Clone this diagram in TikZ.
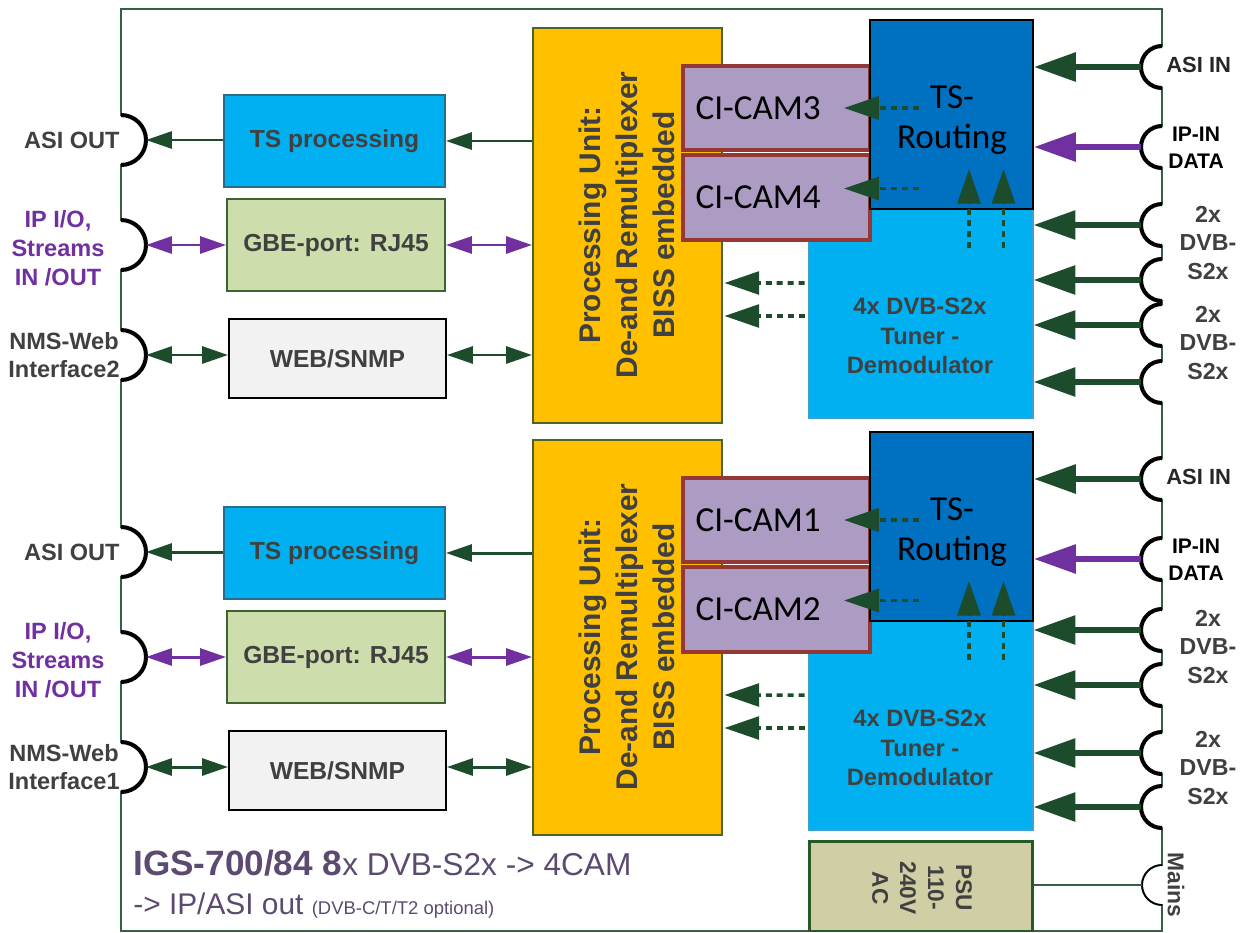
\documentclass[tikz,border=0pt]{standalone}
\usepackage{fontspec}
\setmainfont{Liberation Sans}
\newfontfamily\calfont{Carlito}
\usetikzlibrary{arrows.meta,calc}

\definecolor{arrowgreen}{RGB}{28,76,44}
\definecolor{framegreen}{RGB}{55,95,65}
\definecolor{ipurple}{RGB}{112,48,160}
\definecolor{cyanbox}{RGB}{0,176,240}
\definecolor{routeblue}{RGB}{0,112,192}
\definecolor{puyellow}{RGB}{255,192,0}
\definecolor{puborder}{RGB}{79,98,40}
\definecolor{gbegreen}{RGB}{205,221,172}
\definecolor{gbeborder}{RGB}{60,100,50}
\definecolor{webgray}{RGB}{242,242,242}
\definecolor{camviolet}{RGB}{172,156,196}
\definecolor{cambrown}{RGB}{149,55,53}
\definecolor{psukhaki}{RGB}{208,206,164}
\definecolor{psuborder}{RGB}{40,90,40}
\definecolor{tsborder}{RGB}{40,110,140}
\definecolor{tunerborder}{RGB}{60,160,210}
\definecolor{textgray}{RGB}{64,64,64}
\definecolor{titlepurple}{RGB}{92,74,112}

\tikzset{
  casing/.style={draw=framegreen, line width=1.1pt},
  box/.style={draw, inner sep=0pt, line width=1.1pt, font=\fontsize{14}{17}\selectfont\bfseries, text=textgray},
  cam/.style={draw=cambrown, fill=camviolet, line width=2.3pt, minimum width=3.74cm, minimum height=1.7cm, text width=3.24cm, inner xsep=0.25cm, inner ysep=0pt, align=left, font=\calfont\fontsize{20}{24}\selectfont},
  port/.style={draw=black, line width=2.3pt},
  lbl/.style={inner sep=0pt, align=center, font=\fontsize{13.4}{16.4}\selectfont\bfseries, text=textgray},
  link/.style={draw=arrowgreen, line width=1.7pt, >={Triangle[length=14.7pt,width=9.6pt]}},
  feed/.style={draw=arrowgreen, line width=3.4pt, >={Triangle[length=23.8pt,width=15.9pt]}, ->},
  dfeed/.style={draw=arrowgreen, line width=2pt, dash pattern=on 3.4pt off 2.8pt, >={Triangle[length=19.8pt,width=13pt]}, ->}
}

\begin{document}
\begin{tikzpicture}[x=0.02cm, y=-0.02cm]
    \useasboundingbox (0,0) rectangle (1244,933);

    % Housing with the port openings
    \draw[casing] (121,931) \foreach \y in {767,657,552,355,245,140}{ -- (121,\y+25) arc[start angle=-90, end angle=90, radius=0.5cm] }
        -- (121,9) -- (1162,9)
        \foreach \y in {67,147,225,280,325,382,479,559,630,685,753,807}{ -- (1162,\y-21) arc[start angle=90, end angle=270, radius=0.42cm] }
        -- (1162,865) arc[start angle=90, end angle=270, radius=0.4cm] -- (1162,931) -- cycle;

    % Two identical receiver halves
    \foreach \h/\off/\camA/\camB/\nms/\da/\db/\dc/\dd/\la/\lb in
        {U/0/CI-CAM3/CI-CAM4/Interface2/225/280/325/382/243/343,
         L/412/CI-CAM1/CI-CAM2/Interface1/218/273/341/395/235/356}{
    \begin{scope}[yshift={-0.02cm*\off}]
        % Processing unit
        \node[box, fill=puyellow, draw=puborder, minimum width=3.78cm, minimum height=7.9cm] (pu\h) at (627.5,225.5) {};
        \node[rotate=90, align=center, font=\fontsize{17}{21}\selectfont\bfseries, text=textgray] (putxt\h) at (627,225) {Processing Unit:\\De-and Remultiplexer\\BISS embedded};

        % Output blocks
        \node[box, fill=cyanbox, draw=tsborder, minimum width=4.42cm, minimum height=1.84cm] (tsp\h) at (334.5,141) {TS processing};
        \node[box, fill=gbegreen, draw=gbeborder, minimum width=4.36cm, minimum height=1.84cm] (gbe\h) at (336,245) {GBE-port: RJ45};
        \node[box, fill=webgray, draw=black, minimum width=4.34cm, minimum height=1.58cm] (web\h) at (337.5,358.5) {WEB/SNMP};

        % Tuner, CAM slots, routing
        \node[box, fill=cyanbox, draw=tunerborder, line width=0.6pt, minimum width=4.5cm, minimum height=4.18cm] (tun\h) at (920.5,313.5) {};
        \node[align=center, font=\fontsize{13.5}{16.7}\selectfont\bfseries, text=textgray] (tuntxt\h) at (920,336) {4x DVB-S2x\\Tuner -\\Demodulator};
        \node[cam, minimum height=1.68cm] (camA\h) at (776.5,108) {\camA};
        \node[cam] (camB\h) at (776.5,197.5) {\camB};
        \node[box, fill=routeblue, draw=black, minimum width=3.26cm, minimum height=3.78cm] (tsr\h) at (951.5,114.5) {};
        \node[align=center, font=\calfont\fontsize{20}{22.7}\selectfont, text=black] (tsrtxt\h) at (952,120) {TS-\\Routing};

        % Ports
        \foreach \y in {140,245,355} \draw[port] (121,\y+25) arc[start angle=-90, end angle=90, radius=0.5cm];
        \foreach \y in {67,147,\da,\db,\dc,\dd} \draw[port] (1162,\y-21) arc[start angle=90, end angle=270, radius=0.42cm];
        \coordinate (asiout\h) at (146,140);
        \coordinate (ipio\h) at (146,245);
        \coordinate (nms\h) at (146,355);
        \coordinate (asiin\h) at (1141,67);
        \coordinate (ipin\h) at (1141,147);
        \coordinate (dvbA\h) at (1141,\da);
        \coordinate (dvbB\h) at (1141,\db);
        \coordinate (dvbC\h) at (1141,\dc);
        \coordinate (dvbD\h) at (1141,\dd);

        % Port labels
        \node[lbl, anchor=east] (asioutlbl\h) at (120,140) {ASI OUT};
        \node[lbl, text=ipurple] (ipiolbl\h) at (58,248) {IP I/O,\\Streams\\IN /OUT};
        \node[lbl] (nmslbl\h) at (64,355) {NMS-Web\\\nms};
        \node[lbl, anchor=west, font=\fontsize{12.5}{15}\selectfont\bfseries, text=black!85] (asiinlbl\h) at (1166,65) {ASI IN};
        \node[lbl, font=\fontsize{12}{15.3}\selectfont\bfseries, text=black] (ipinlbl\h) at (1196,148) {IP-IN\\DATA};
        \node[lbl, font=\fontsize{13.2}{16.4}\selectfont\bfseries] (dvbABlbl\h) at (1208,\la) {2x\\DVB-\\S2x};
        \node[lbl, font=\fontsize{13.2}{16.4}\selectfont\bfseries] (dvbCDlbl\h) at (1208,\lb) {2x\\DVB-\\S2x};

        % Signal paths
        \draw[link, ->] (tsp\h.west |- asiout\h) -- (asiout\h);
        \draw[link, ->] (pu\h.west |- tsp\h) -- (tsp\h.east);
        \draw[link, draw=ipurple, <->] (ipio\h) -- (gbe\h.west |- ipio\h);
        \draw[link, draw=ipurple, <->] (gbe\h.east) -- (pu\h.west |- gbe\h);
        \draw[link, <->] (nms\h) -- (web\h.west |- nms\h);
        \draw[link, <->] (web\h.east |- nms\h) -- (pu\h.west |- nms\h);
        \draw[feed] (asiin\h) -- (tsr\h.east |- asiin\h);
        \draw[feed, draw=ipurple] (ipin\h) -- (tsr\h.east |- ipin\h);
        \foreach \p in {dvbA,dvbB,dvbC,dvbD} \draw[feed] (\p\h) -- (tun\h.east |- \p\h);
        \draw[dfeed] ($(tsr\h.west |- camA\h)+(50,0)$) -- ($(camA\h.east)+(-28,0)$);
        \draw[dfeed] ($(tsr\h.west |- camB\h)+(50,-9)$) -- ($(camB\h.east)+(-28,-9)$);
        \foreach \dx in {17.5,52} \draw[dfeed] ($(tsr\h.south)+(\dx,38)$) -- ($(tsr\h.south)+(\dx,-41)$);
        \foreach \dy in {-30.5,2.5} \draw[dfeed] ($(tun\h.west)+(-3,\dy)$) -- ($(pu\h.east)+(1.5,88+\dy)$);
    \end{scope}
    }

    % Power supply
    \node[box, fill=psukhaki, draw=psuborder, line width=1.7pt, minimum width=4.48cm, minimum height=1.8cm] (psu) at (921,886) {};
    \node[rotate=-90, align=center, font=\fontsize{12.9}{15.9}\selectfont\bfseries, text=textgray] (psutxt) at (922,888) {PSU\\110-\\240V\\AC};
    \draw[line width=0.9pt] (1162,865) arc[start angle=90, end angle=270, radius=0.4cm];
    \coordinate (mains) at (1142,885);
    \draw[draw=framegreen, line width=1.2pt] (psu.east |- mains) -- (mains);
    \node[rotate=-90, font=\fontsize{13}{15}\selectfont\bfseries, text=textgray] (mainslbl) at (1176,885) {Mains};

    % Type label
    \node[anchor=base west, inner sep=0pt, text=titlepurple] (title) at (133,875) {\fontsize{20}{24}\selectfont\bfseries IGS-700/84 8\mdseries\fontsize{18}{22}\selectfont x DVB-S2x -> 4CAM};
    \node[anchor=base west, inner sep=0pt, text=titlepurple] (subtitle) at (133,914) {\fontsize{17}{20}\selectfont -> IP/ASI out \fontsize{10.5}{12}\selectfont (DVB-C/T/T2 optional)};
\end{tikzpicture}
\end{document}
